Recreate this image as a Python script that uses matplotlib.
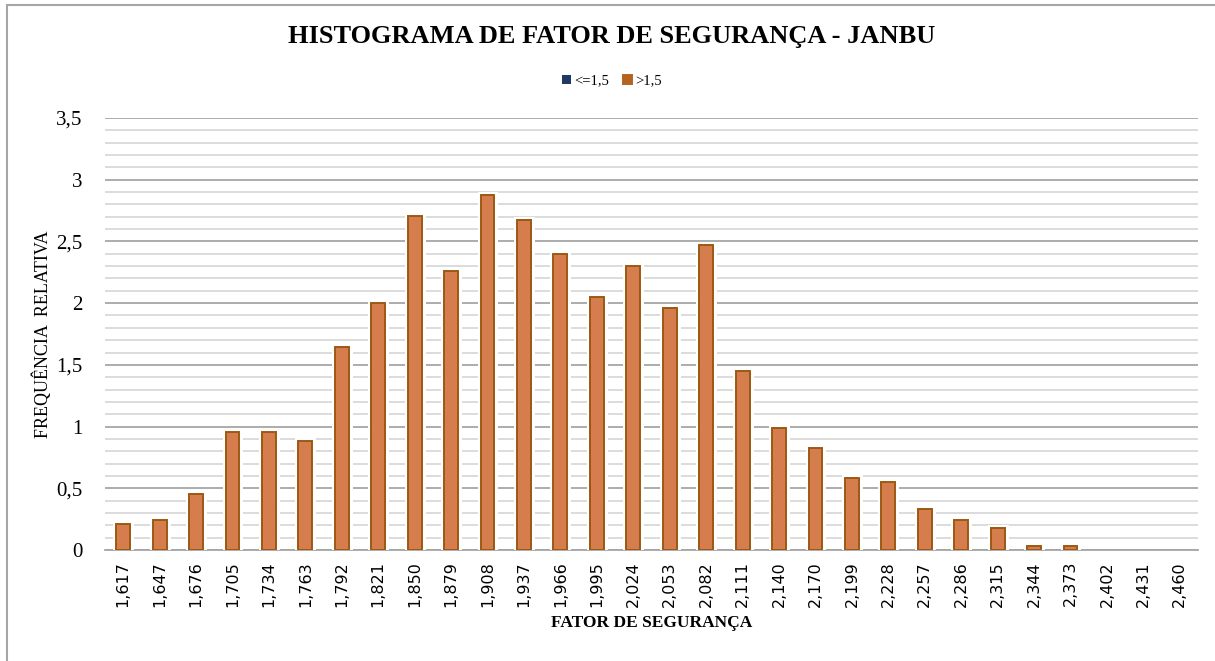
import matplotlib
matplotlib.use("Agg")
import matplotlib.pyplot as plt
import matplotlib.patheffects as pe
from matplotlib.patches import Rectangle
from matplotlib.ticker import MultipleLocator, FuncFormatter
import numpy as np

# Classes of safety factor (bin labels) and relative frequency per class
categorias = ["1,617", "1,647", "1,676", "1,705", "1,734", "1,763", "1,792", "1,821",
              "1,850", "1,879", "1,908", "1,937", "1,966", "1,995", "2,024", "2,053",
              "2,082", "2,111", "2,140", "2,170", "2,199", "2,228", "2,257", "2,286",
              "2,315", "2,344", "2,373", "2,402", "2,431", "2,460"]
freq_ate_1_5 = [0.0] * len(categorias)
freq_acima_1_5 = [0.21, 0.24, 0.45, 0.96, 0.96, 0.88, 1.645, 2.0,
                  2.71, 2.26, 2.88, 2.67, 2.40, 2.05, 2.30, 1.96,
                  2.47, 1.45, 0.99, 0.83, 0.58, 0.55, 0.33, 0.24,
                  0.18, 0.03, 0.03, 0.0, 0.0, 0.0]

serif = ["Liberation Serif", "DejaVu Serif"]

fig = plt.figure(figsize=(12.15, 6.61), dpi=100)
fig.patch.set_facecolor("white")
fig.patches.append(Rectangle((7 / 1215, -0.01), 1.02, 1 - 5 / 661 + 0.01,
                             transform=fig.transFigure, fill=False,
                             edgecolor="#A6A6A6", linewidth=1.5))

ax = fig.add_axes([105 / 1215, 1 - 550 / 661, (1198 - 105) / 1215, (550 - 118) / 661])

x = np.arange(len(categorias))
largura = 0.38
ax.bar(x, freq_ate_1_5, width=largura, color="#203864", label="<=1,5")
barras = ax.bar(x, freq_acima_1_5, width=largura, color="#D67D4E",
                edgecolor="#9C5912", linewidth=1.4, label=">1,5", zorder=3)
for b, v in zip(barras, freq_acima_1_5):
    if v > 0:
        b.set_path_effects([pe.Stroke(linewidth=5, foreground="white"), pe.Normal()])
    else:
        b.set_visible(False)

ax.set_xlim(-0.5, len(categorias) - 0.5)
ax.set_ylim(0, 3.5)
ax.yaxis.set_major_locator(MultipleLocator(0.5))
ax.yaxis.set_minor_locator(MultipleLocator(0.1))
ax.grid(axis="y", which="major", color="#A6A6A6", linewidth=1.3, zorder=0)
ax.grid(axis="y", which="minor", color="#D9D9D9", linewidth=1.3, zorder=0)
ax.set_axisbelow(True)

for s in ["top", "right", "left"]:
    ax.spines[s].set_visible(False)
ax.spines["bottom"].set_color("#A6A6A6")
ax.spines["bottom"].set_linewidth(1.3)

ax.yaxis.set_major_formatter(FuncFormatter(lambda v, p: f"{v:g}".replace(".", ",")))
ax.tick_params(axis="y", which="both", length=0, pad=16, labelsize=15)
for t in ax.get_yticklabels():
    t.set_fontfamily(serif)
ax.set_xticks(x)
ax.set_xticklabels(categorias, rotation=90, fontsize=11.5, family="DejaVu Sans")
ax.tick_params(axis="x", length=0, pad=8)

ax.set_xlabel("FATOR DE SEGURANÇA", fontsize=12.5, fontweight="bold", family=serif, labelpad=6)
ax.set_ylabel("FREQUÊNCIA  RELATIVA", fontsize=13, family=serif, labelpad=3)

fig.text(612 / 1215, 1 - 37 / 661, "HISTOGRAMA DE FATOR DE SEGURANÇA - JANBU",
         ha="center", va="center", fontsize=19, fontweight="bold", family=serif)

leg = ax.legend(loc="center", bbox_to_anchor=(612 / 1215, 1 - 81 / 661),
                bbox_transform=fig.transFigure, ncol=2, frameon=False,
                prop={"family": serif, "size": 10.5}, handlelength=0.6, handleheight=0.6,
                handletextpad=0.2, columnspacing=1.0)
leg.legend_handles[1].set_facecolor("#B4641E")
leg.legend_handles[1].set_edgecolor("#B4641E")
leg.legend_handles[1].set_path_effects([])
leg.legend_handles[1].set_visible(True)

fig.savefig("out.png", dpi=100, facecolor="white")
